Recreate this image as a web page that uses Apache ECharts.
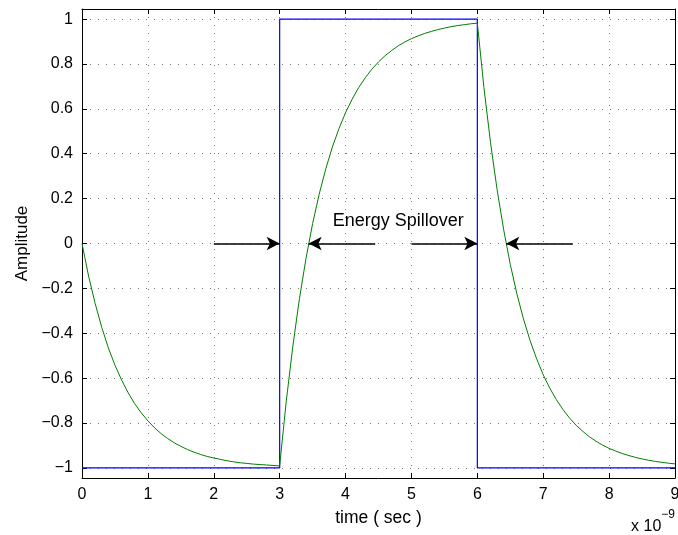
<!DOCTYPE html>
<html><head><meta charset="utf-8">
<script src="https://cdn.jsdelivr.net/npm/echarts@6/dist/echarts.min.js"></script>
<style>html,body{margin:0;padding:0;background:#fff}#c{width:678px;height:535px}</style>
</head><body><div id="c"></div>
<script>
// time samples in units of 1e-9 s (step 0.1)
var timeStep = 0.1;
var greenValues = [
 0, -0.145, -0.268, -0.374, -0.465, -0.542, -0.608, -0.665, -0.714, -0.755,
 -0.790, -0.821, -0.847, -0.869, -0.888, -0.904, -0.918, -0.930, -0.940, -0.949,
 -0.956, -0.962, -0.968, -0.973, -0.977, -0.980, -0.983, -0.985, -0.987, -0.989,
 -0.991, -0.703, -0.457, -0.246, -0.066, 0.089, 0.220, 0.333, 0.430, 0.512,
 0.583, 0.643, 0.695, 0.739, 0.777, 0.809, 0.837, 0.860, 0.881, 0.898,
 0.913, 0.925, 0.936, 0.945, 0.953, 0.960, 0.966, 0.971, 0.975, 0.979,
 0.982, 0.695, 0.450, 0.240, 0.061, -0.093, -0.224, -0.336, -0.432, -0.514,
 -0.585, -0.645, -0.696, -0.740, -0.778, -0.810, -0.837, -0.861, -0.881, -0.898,
 -0.913, -0.925, -0.936, -0.945, -0.953, -0.960, -0.966, -0.971, -0.975, -0.979,
 -0.982
];
var squareTimes = [0, 3, 3, 6, 6, 9];
var squareValues = [-1, -1, 1, 1, -1, -1];
var xTicks = [0,1,2,3,4,5,6,7,8,9];
var yTicks = [-1,-0.8,-0.6,-0.4,-0.2,0,0.2,0.4,0.6,0.8,1];
// arrows: [startTime, endTime] at amplitude 0
var arrows = [[2, 3], [4.45, 3.44], [5, 6], [7.45, 6.44]];
var annotation = {text: 'Energy Spillover', t: 4.8, v: 0.1};

var greenData = greenValues.map(function(v, i){ return [+(i*timeStep).toFixed(2), v]; });
var squareData = squareTimes.map(function(t, i){ return [t, squareValues[i]]; });

var chart = echarts.init(document.getElementById('c'), null, {renderer:'canvas'});
var font = 'Liberation Sans, Arial, Helvetica, sans-serif';
function fmtNum(v){ var s = String(+v.toFixed(1)); return s.replace('-', '\u2212'); }
var xBase = {type:'value', min:0, max:9, interval:1,
  axisLine:{show:true, onZero:false, lineStyle:{color:'#000', width:1}},
  axisTick:{show:true, inside:true, length:5, lineStyle:{color:'#000'}},
};
var yBase = {type:'value', min:-1.045, max:1.045, interval:0.2,
  axisLine:{show:true, onZero:false, lineStyle:{color:'#000', width:1}},
  axisTick:{show:true, inside:true, length:5, lineStyle:{color:'#000'}},
};
var gridLine = {show:true, lineStyle:{color:'#777', width:1, type:[1,7]}};
var option = {
  animation:false,
  backgroundColor:'#fff',
  grid:{left:82, right:3, top:9, bottom:57, containLabel:false, outerBoundsMode:'none'},
  xAxis:[
    Object.assign({}, xBase, {position:'bottom',
      axisLabel:{show:true, color:'#000', fontSize:16, fontFamily:font, margin:9,
        formatter:function(v){ return xTicks.indexOf(v) >= 0 ? fmtNum(v) : ''; }},
      splitLine:gridLine,
      name:'time ( sec )', nameLocation:'middle', nameGap:31,
      nameTextStyle:{color:'#000', fontSize:17.5, fontFamily:font}}),
    Object.assign({}, xBase, {position:'top', axisLabel:{show:false}, splitLine:{show:false}})
  ],
  yAxis:[
    Object.assign({}, yBase, {position:'left',
      axisTick:{show:true, inside:true, length:5, lineStyle:{color:'#000'}, customValues: yTicks},
      axisLabel:{show:true, color:'#000', fontSize:16, fontFamily:font, margin:9,
        customValues: yTicks, formatter:function(v){ return fmtNum(v); }},
      splitLine:gridLine,
      name:'Amplitude', nameLocation:'middle', nameGap:48, nameRotate:90,
      nameTextStyle:{color:'#000', fontSize:17, fontFamily:font}}),
    Object.assign({}, yBase, {position:'right',
      axisTick:{show:true, inside:true, length:5, lineStyle:{color:'#000'}, customValues: yTicks},
      axisLabel:{show:false}, splitLine:{show:false}})
  ],
  series:[
    {type:'line', data:squareData, showSymbol:false, symbol:'none',
      lineStyle:{color:'#0000ff', width:1.2}, z:3},
    {type:'line', data:greenData, showSymbol:false, symbol:'none',
      lineStyle:{color:'#008000', width:1}, z:4,
      markLine:{silent:true, symbol:['none','arrow'], symbolSize:[10,13], precision:4,
        lineStyle:{color:'#000', width:1.5, type:'solid'}, label:{show:false},
        data: arrows.map(function(a){ return [{coord:[a[0],0]},{coord:[a[1],0]}]; })}},
    {type:'scatter', data:[[annotation.t, annotation.v]], symbolSize:0, z:5,
      itemStyle:{opacity:1, color:'#000'},
      label:{show:true, position:'inside', formatter:annotation.text, color:'#000',
        textBorderWidth:0, fontSize:18, fontFamily:font}}
  ],
  graphic:[
    {type:'text', right:3, bottom:0, style:{
      text:'{a|x 10}{b|\u22129}', fontFamily:font,
      rich:{a:{fontSize:16, fontFamily:font, fill:'#000', verticalAlign:'bottom', lineHeight:26},
            b:{fontSize:12, fontFamily:font, fill:'#000', verticalAlign:'top', padding:[0,0,12,0], lineHeight:26}}}}
  ]
};
chart.setOption(option);
</script></body></html>
